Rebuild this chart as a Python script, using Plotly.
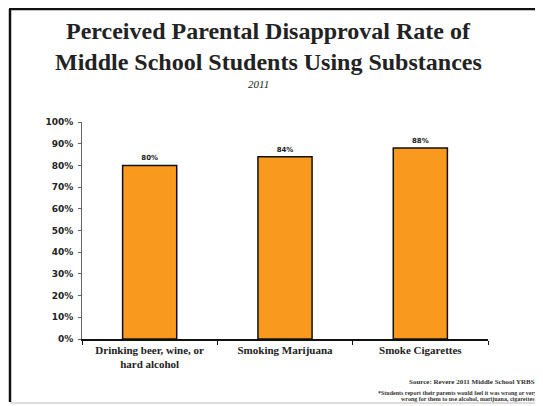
import plotly.graph_objects as go

categories = ["Drinking beer, wine, or<br>hard alcohol", "Smoking Marijuana", "Smoke Cigarettes"]
values = [80, 84, 88]
value_labels = ["80%", "84%", "88%"]
y_ticks = [0, 10, 20, 30, 40, 50, 60, 70, 80, 90, 100]
y_tick_labels = [f"{v}%" for v in y_ticks]

OFF = 8  # page body margin
W, H = 543 - OFF, 406 - OFF
L, R, T, B = 82 - OFF, 55, 122 - OFF, 67
pw, ph = W - L - R, H - T - B

def px(x):
    return (x - OFF - L) / pw

def py(y):
    return (H - B - (y - OFF)) / ph

fig = go.Figure()
fig.add_trace(go.Bar(
    x=categories, y=values,
    marker=dict(color="#F99A1F", line=dict(color="#111", width=1.5)),
    text=[f"<b>{t}</b>" for t in value_labels], textposition="outside",
    textfont=dict(family="DejaVu Sans", size=7, color="#222"),
    cliponaxis=False, width=0.4,
))

fig.update_layout(
    width=W, height=H,
    margin=dict(l=L, r=R, t=T, b=B),
    paper_bgcolor="white", plot_bgcolor="white",
    showlegend=False,
    font=dict(family="DejaVu Sans", color="#222"),
)
fig.update_yaxes(
    range=[0, 100], tickvals=y_ticks, ticktext=[f"<b>{t}</b>" for t in y_tick_labels],
    showgrid=False, zeroline=False, showline=True, linecolor="#666", linewidth=1,
    ticks="outside", ticklen=3, tickcolor="#666", ticklabelstandoff=3,
    tickfont=dict(family="DejaVu Sans", size=9, color="#222"),
)
fig.update_xaxes(
    showgrid=False, showline=True, linecolor="#111", linewidth=1.5,
    ticks="outside", ticklen=4, tickcolor="#111", tickson="boundaries",
    tickfont=dict(family="Liberation Serif", size=11, color="#222"),
    ticktext=[f"<b>{c}</b>" for c in categories], tickvals=categories,
)

# Titles
fig.add_annotation(xref="paper", yref="paper", x=px(268), y=py(31),
                   text="<b>Perceived Parental Disapproval Rate of</b>", showarrow=False,
                   font=dict(family="Liberation Serif", size=24, color="#222"), xanchor="center", yanchor="middle")
fig.add_annotation(xref="paper", yref="paper", x=px(268), y=py(62),
                   text="<b>Middle School Students Using Substances</b>", showarrow=False,
                   font=dict(family="Liberation Serif", size=24, color="#222"), xanchor="center", yanchor="middle")
fig.add_annotation(xref="paper", yref="paper", x=px(258), y=py(84),
                   text="<i>2011</i>", showarrow=False,
                   font=dict(family="Liberation Serif", size=11, color="#222"), xanchor="center", yanchor="middle")

# Source and footnote
fig.add_annotation(xref="paper", yref="paper", x=px(537), y=py(382),
                   text="<b>Source: Revere 2011 Middle School YRBS</b>", showarrow=False,
                   font=dict(family="Liberation Serif", size=7, color="#333"), xanchor="right", yanchor="middle")
fig.add_annotation(xref="paper", yref="paper", x=px(539), y=py(393),
                   text="<b>*Students report their parents would feel it was wrong or very</b>", showarrow=False,
                   font=dict(family="Liberation Serif", size=6, color="#333"), xanchor="right", yanchor="middle")
fig.add_annotation(xref="paper", yref="paper", x=px(537), y=py(399),
                   text="<b>wrong for them to use alcohol, marijuana, cigarettes</b>", showarrow=False,
                   font=dict(family="Liberation Serif", size=6, color="#333"), xanchor="right", yanchor="middle")

# Frame
fig.add_shape(type="line", xref="paper", yref="paper", x0=px(10), x1=px(10), y0=py(9), y1=py(402),
              line=dict(color="#111", width=2.5))
fig.add_shape(type="line", xref="paper", yref="paper", x0=px(9), x1=px(543), y0=py(9), y1=py(9),
              line=dict(color="#111", width=2.5))
fig.add_shape(type="line", xref="paper", yref="paper", x0=px(10), x1=px(543), y0=py(403), y1=py(403),
              line=dict(color="#bbb", width=1))
fig.add_shape(type="line", xref="paper", yref="paper", x0=px(541), x1=px(541), y0=py(9), y1=py(403),
              line=dict(color="#ccc", width=1))

fig.write_html("out.html")
